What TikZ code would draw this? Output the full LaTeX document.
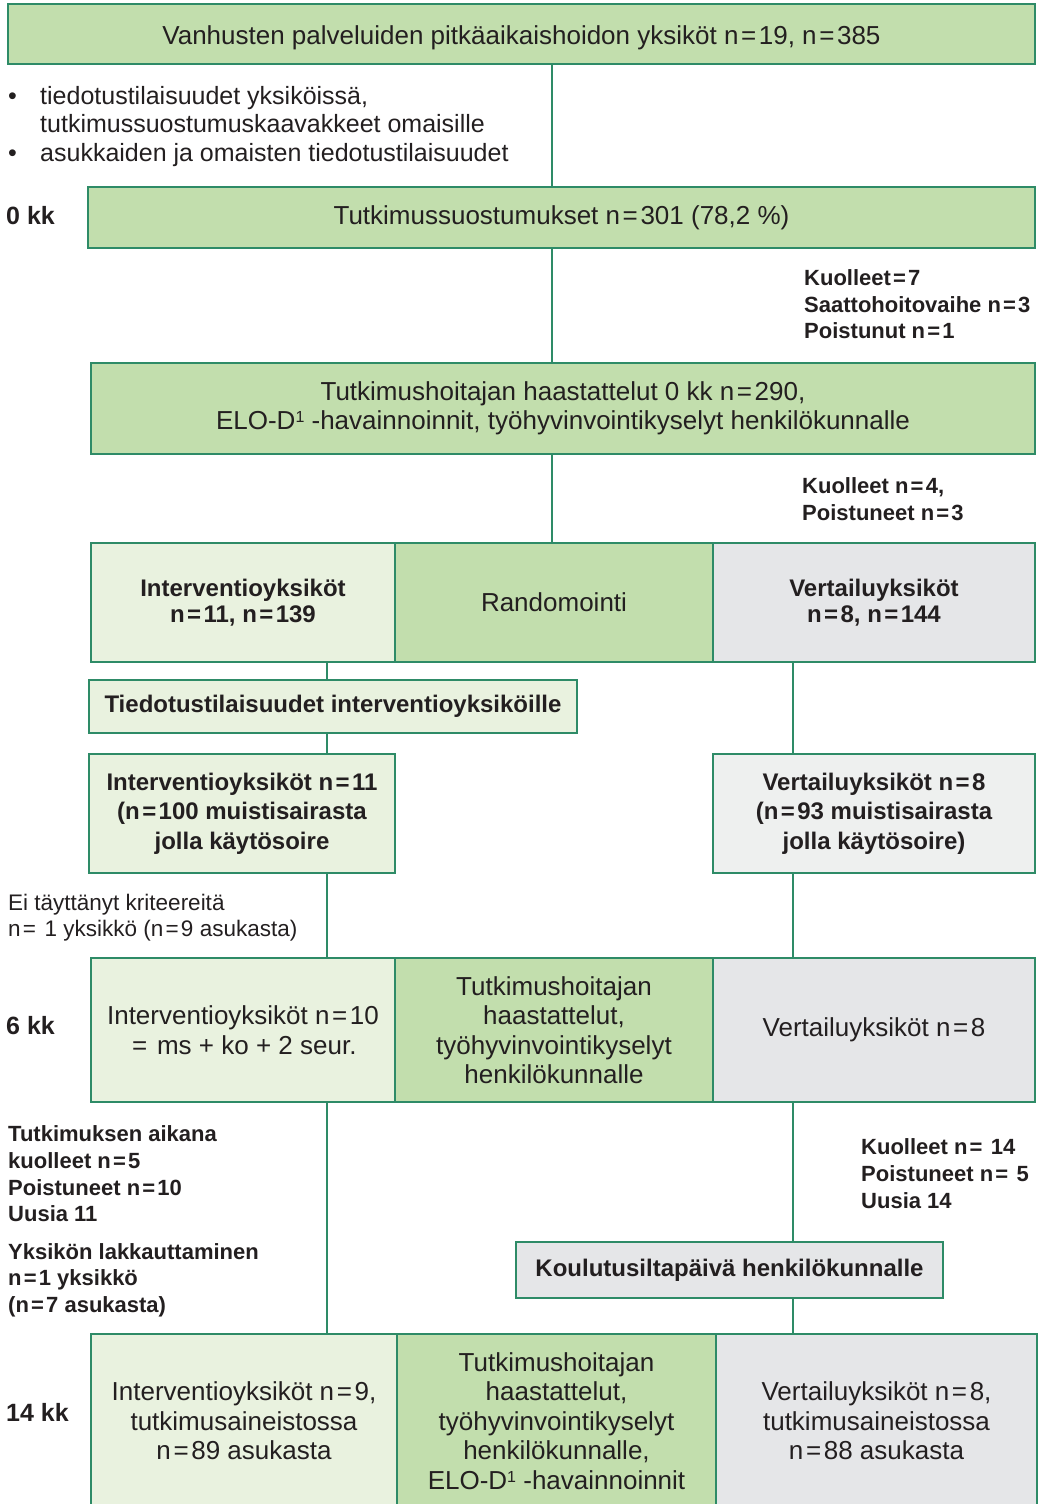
\documentclass[tikz,border=0pt]{standalone}
\usepackage{fontspec}
\setmainfont{Liberation Sans}
\definecolor{bord}{HTML}{2E8B67}
\definecolor{gdark}{HTML}{C2DEAD}
\definecolor{glight}{HTML}{E9F2DF}
\definecolor{grey1}{HTML}{E5E6E8}
\definecolor{grey2}{HTML}{EEF0EF}
\definecolor{txt}{HTML}{231F20}
\newcommand{\myeq}{\kern0.1em=\kern0.1em}
\newcommand{\mysup}{\raisebox{7pt}{\fontsize{16}{16}\selectfont 1}}
\begin{document}
\begin{tikzpicture}[x=1pt,y=-1pt,
 box/.style={draw=bord, line width=1.6pt, inner sep=0pt, align=center, text=txt, font=\fontsize{26}{29.5}\selectfont},
 bbox/.style={box, font=\bfseries\fontsize{24}{29.5}\selectfont},
 link/.style={draw=bord, line width=1.4pt},
 side/.style={anchor=base west, inner sep=0pt, text=txt},
 sreg/.style={side, font=\fontsize{25}{29}\selectfont},
 ssmall/.style={side, font=\fontsize{22.5}{26}\selectfont},
 sbold/.style={side, font=\bfseries\fontsize{22}{26}\selectfont},
 slabel/.style={side, font=\bfseries\fontsize{25}{29}\selectfont}
]
\useasboundingbox (0,0) rectangle (1040,1504);
\clip (0,0) rectangle (1040,1504);

% column coordinates for connectors
\coordinate (cM) at (552,0);
\coordinate (cL) at (327,0);
\coordinate (cR) at (793,0);

% boxes
\node[box, fill=gdark, minimum width=1027pt, minimum height=60pt, text height=24pt, text depth=3pt] (b1) at (521.5,34) {Vanhusten palveluiden pitkäaikaishoidon yksiköt n\myeq19, n\myeq385};
\node[box, fill=gdark, minimum width=947pt, minimum height=61pt] (b2) at (561.5,217.5) {Tutkimussuostumukset n\myeq301 (78,2 \%)};
\node[box, fill=gdark, minimum width=944pt, minimum height=91pt] (b3) at (563,408.5) {Tutkimushoitajan haastattelut 0 kk n\myeq290,\\ELO-D\mysup\ -havainnoinnit, työhyvinvointikyselyt henkilökunnalle};

\node[bbox, fill=glight, minimum width=304pt, minimum height=119pt, font=\bfseries\fontsize{24}{26}\selectfont] (r1L) at (243,602.5) {Interventioyksiköt\\n\myeq11, n\myeq139};
\node[box, fill=gdark, minimum width=318pt, minimum height=119pt] (r1M) at (554,602.5) {Randomointi};
\node[bbox, fill=grey1, minimum width=322pt, minimum height=119pt, font=\bfseries\fontsize{24}{26}\selectfont] (r1R) at (874,602.5) {Vertailuyksiköt\\n\myeq8, n\myeq144};

\node[bbox, fill=glight, minimum width=488pt, minimum height=53pt] (tied) at (333,706.5) {Tiedotustilaisuudet interventioyksiköille};
\node[bbox, fill=glight, minimum width=306pt, minimum height=119pt] (iv11) at (242,813.5) {Interventioyksiköt n\myeq11\\(n\myeq100 muistisairasta\\jolla käytösoire};
\node[bbox, fill=grey2, minimum width=322pt, minimum height=119pt] (vt8) at (874,813.5) {Vertailuyksiköt n\myeq8\\(n\myeq93 muistisairasta\\jolla käytösoire)};

\node[box, fill=glight, minimum width=304pt, minimum height=144pt] (r6L) at (243,1030) {Interventioyksiköt n\myeq10\\\myeq{} ms + ko + 2 seur.};
\node[box, fill=gdark, minimum width=318pt, minimum height=144pt] (r6M) at (554,1030) {Tutkimushoitajan\\haastattelut,\\työhyvinvointikyselyt\\henkilökunnalle};
\node[box, fill=grey1, minimum width=322pt, minimum height=144pt] (r6R) at (874,1030) {Vertailuyksiköt n\myeq8};

\node[bbox, fill=grey1, minimum width=427pt, minimum height=56pt] (koul) at (729.5,1270) {Koulutusiltapäivä henkilökunnalle};

\node[box, fill=glight, minimum width=306pt, minimum height=174pt] (r14L) at (244,1421) {Interventioyksiköt n\myeq9,\\tutkimusaineistossa\\n\myeq89 asukasta};
\node[box, fill=gdark, minimum width=319pt, minimum height=174pt] (r14M) at (556.5,1421) {Tutkimushoitajan\\haastattelut,\\työhyvinvointikyselyt\\henkilökunnalle,\\ELO-D\mysup\ -havainnoinnit};
\node[box, fill=grey1, minimum width=321pt, minimum height=174pt] (r14R) at (876.5,1421) {Vertailuyksiköt n\myeq8,\\tutkimusaineistossa\\n\myeq88 asukasta};

% connectors
\draw[link] (b1.south -| cM) -- (b2.north -| cM);
\draw[link] (b2.south -| cM) -- (b3.north -| cM);
\draw[link] (b3.south -| cM) -- (r1M.north -| cM);
\draw[link] (r1L.south -| cL) -- (tied.north -| cL);
\draw[link] (tied.south -| cL) -- (iv11.north -| cL);
\draw[link] (iv11.south -| cL) -- (r6L.north -| cL);
\draw[link] (r6L.south -| cL) -- (r14L.north -| cL);
\draw[link] (r1R.south -| cR) -- (vt8.north -| cR);
\draw[link] (vt8.south -| cR) -- (r6R.north -| cR);
\draw[link] (r6R.south -| cR) -- (koul.north -| cR);
\draw[link] (koul.south -| cR) -- (r14R.north -| cR);

% side texts
\node[sreg] (bu1) at (8,104) {•};
\node[sreg] (t1a) at (40,104) {tiedotustilaisuudet yksiköissä,};
\node[sreg] (t1b) at (40,132) {tutkimussuostumuskaavakkeet omaisille};
\node[sreg] (bu2) at (8,161) {•};
\node[sreg] (t1c) at (40,161) {asukkaiden ja omaisten tiedotustilaisuudet};

\node[slabel] (k0) at (6,224) {0 kk};
\node[slabel] (k6) at (6,1034) {6 kk};
\node[slabel] (k14) at (6,1421) {14 kk};

\node[sbold] (ra1) at (804,285) {Kuolleet\myeq7};
\node[sbold] (ra2) at (804,312) {Saattohoitovaihe n\myeq3};
\node[sbold] (ra3) at (804,338) {Poistunut n\myeq1};

\node[sbold] (rb1) at (802,493) {Kuolleet n\myeq4,};
\node[sbold] (rb2) at (802,520) {Poistuneet n\myeq3};

\node[ssmall] (e1) at (8,910) {Ei täyttänyt kriteereitä};
\node[ssmall] (e2) at (8,936) {n\myeq\ 1 yksikkö (n\myeq9 asukasta)};

\node[sbold] (la1) at (8,1141) {Tutkimuksen aikana};
\node[sbold] (la2) at (8,1168) {kuolleet n\myeq5};
\node[sbold] (la3) at (8,1195) {Poistuneet n\myeq10};
\node[sbold] (la4) at (8,1221) {Uusia 11};
\node[sbold] (lb1) at (8,1259) {Yksikön lakkauttaminen};
\node[sbold] (lb2) at (8,1285) {n\myeq1 yksikkö};
\node[sbold] (lb3) at (8,1312) {(n\myeq7 asukasta)};

\node[sbold] (rc1) at (861,1154) {Kuolleet n\myeq\ 14};
\node[sbold] (rc2) at (861,1181) {Poistuneet n\myeq\ 5};
\node[sbold] (rc3) at (861,1208) {Uusia 14};
\end{tikzpicture}
\end{document}
